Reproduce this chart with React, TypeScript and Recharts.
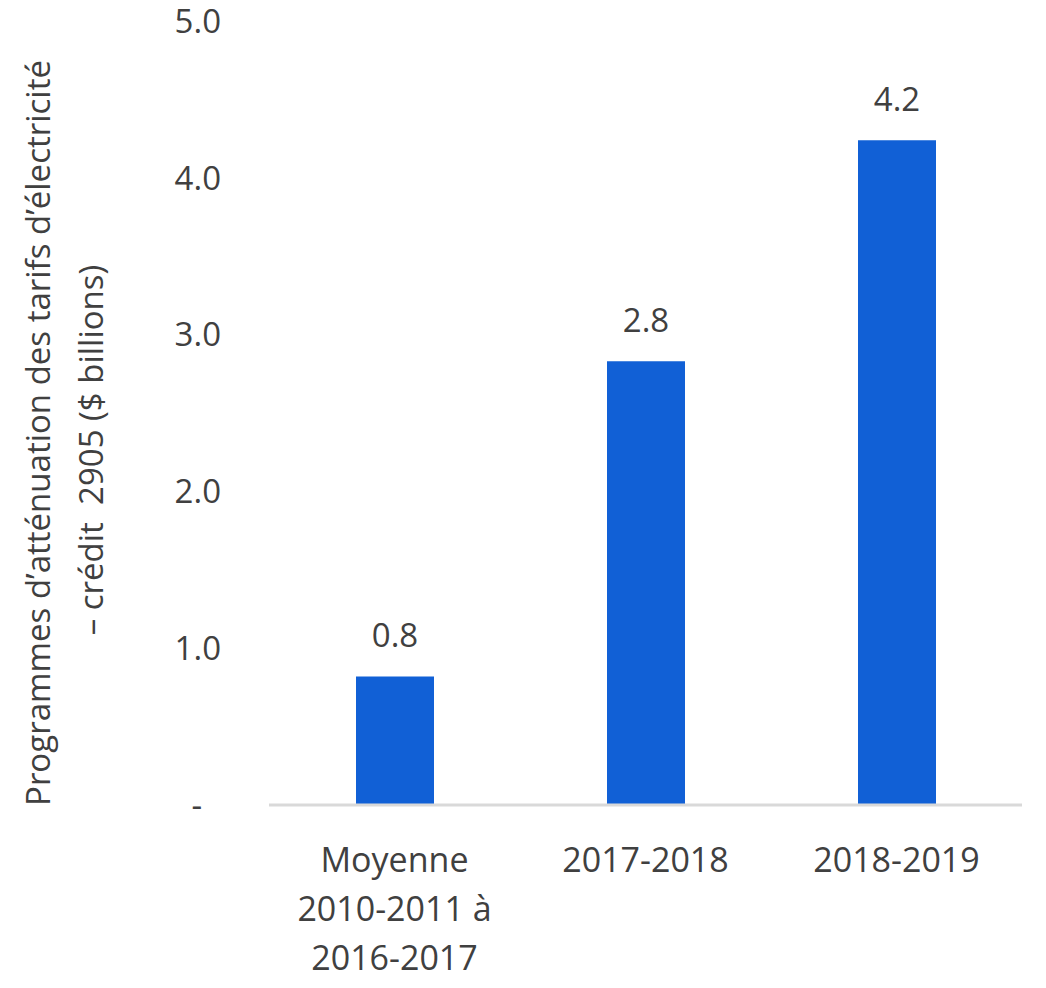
import { BarChart, Bar, XAxis, YAxis, LabelList } from "recharts"

const categories = ["Moyenne\n2010-2011 à\n2016-2017", "2017-2018", "2018-2019"]
const credits = [0.82, 2.83, 4.24]
const yTicks = [0, 1, 2, 3, 4, 5]
const yTitle = ["Programmes d’atténuation des tarifs d’électricité", "– crédit  2905 ($ billions)"]

const data = categories.map((name, i) => ({ name, value: credits[i] }))

const FONT = "'Open Sans', 'Segoe UI', sans-serif"
const TEXT = "#404040"

function CategoryTick(props: any) {
  const { x, y, payload } = props
  const lines = String(payload.value).split("\n")
  return (
    <text x={x} y={y} textAnchor="middle" fill={TEXT} fontFamily={FONT} fontSize={34}>
      {lines.map((l, i) => (
        <tspan key={i} x={x} dy={i === 0 ? 59 : 49}>
          {l}
        </tspan>
      ))}
    </text>
  )
}

function AxisTitle() {
  return (
    <g fontFamily={FONT} fontSize={33} fill={TEXT}>
      <text x={50} y={433} textAnchor="middle" transform="rotate(-90, 50, 433)">
        {yTitle[0]}
      </text>
      <text x={103} y={450} textAnchor="middle" transform="rotate(-90, 103, 450)" style={{ whiteSpace: "pre" }}>
        {yTitle[1]}
      </text>
    </g>
  )
}

export default function App() {
  return (
    <div style={{ position: "absolute", left: 0, top: 0, background: "#fff" }}>
      <BarChart
        width={1046}
        height={988}
        data={data}
        margin={{ top: 21, right: 24, left: 69, bottom: 33 }}
      >
        <XAxis
          dataKey="name"
          axisLine={{ stroke: "#d9d9d9", strokeWidth: 3 }}
          tickLine={false}
          height={150}
          tick={<CategoryTick />}
          interval={0}
        />
        <YAxis
          domain={[0, 5]}
          ticks={yTicks}
          width={200}
          axisLine={false}
          tickLine={false}
          tickSize={0}
          tickMargin={48}
          tick={{ fill: TEXT, fontFamily: FONT, fontSize: 33 }}
          tickFormatter={(v: number) => (v === 0 ? "-\u2007" : v.toFixed(1))}
        />
        <Bar dataKey="value" fill="#1160D6" barSize={78} isAnimationActive={false}>
          <LabelList
            dataKey="value"
            position="top"
            offset={29}
            fill={TEXT}
            fontFamily={FONT}
            fontSize={33}
            formatter={(v: any) => Number(v).toFixed(1)}
          />
        </Bar>
        <AxisTitle />
      </BarChart>
    </div>
  )
}
